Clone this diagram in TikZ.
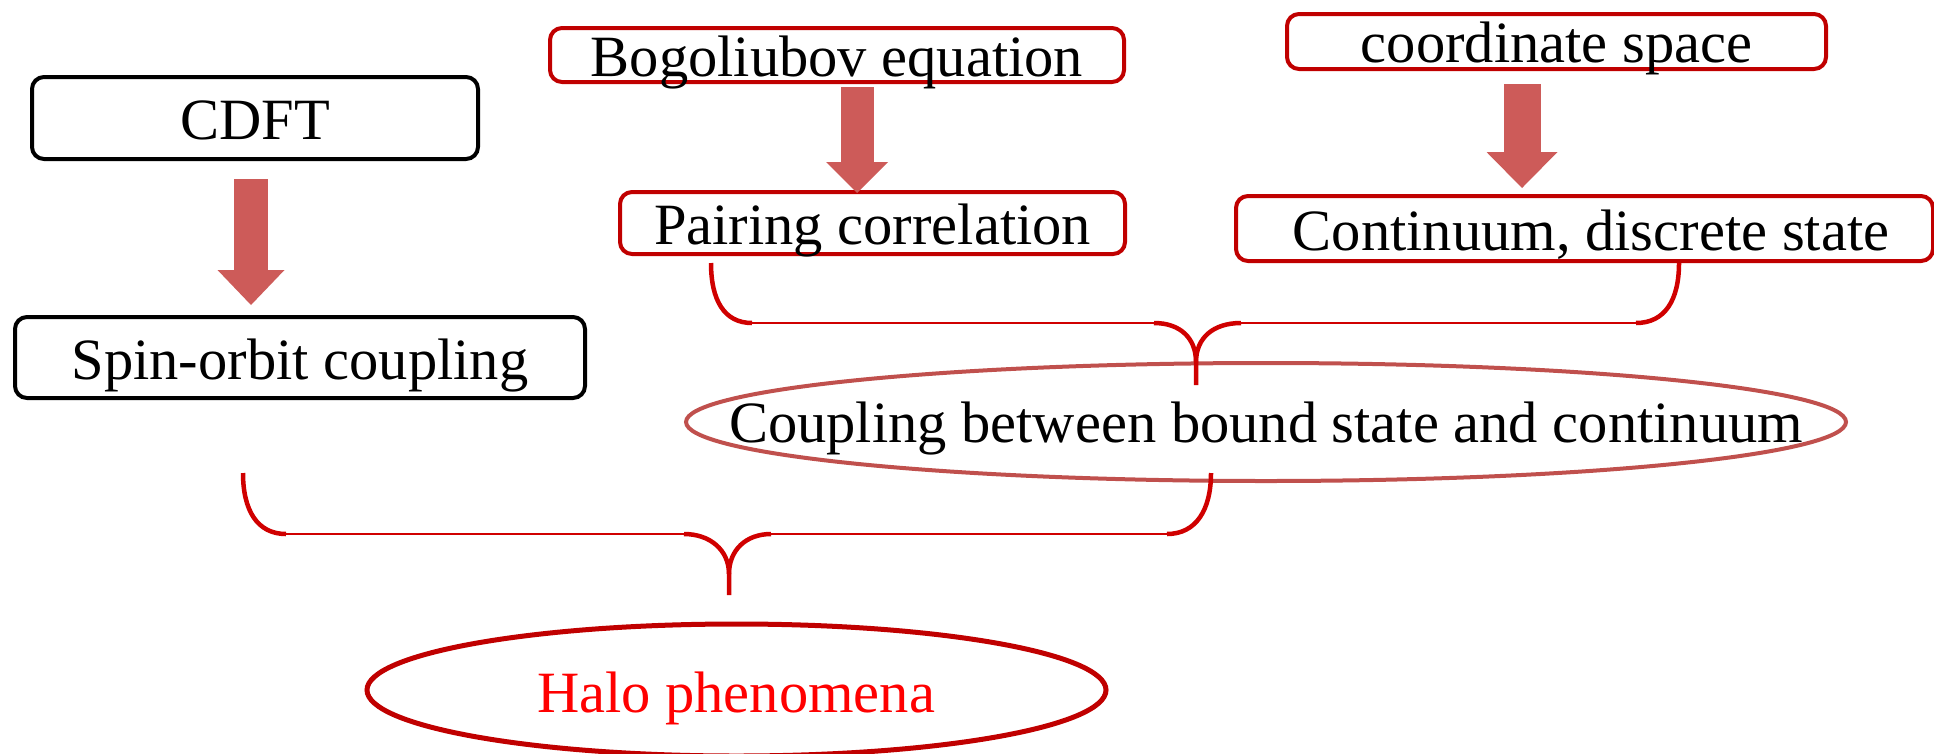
\documentclass[tikz,border=0pt]{standalone}
\usepackage{fontspec}
\setmainfont{Liberation Serif}
\usetikzlibrary{arrows.meta,calc}
\definecolor{boxred}{RGB}{192,0,0}
\definecolor{arrowred}{RGB}{205,91,89}
\definecolor{ellred}{RGB}{192,80,77}
\definecolor{bracered}{RGB}{208,0,0}
\definecolor{halored}{RGB}{255,0,0}
\begin{document}
\begin{tikzpicture}[x=1pt,y=-1pt,
  every node/.style={font=\fontsize{58.5}{70}\selectfont, inner sep=0pt},
  boxbase/.style={line width=4pt, rounded corners=12pt, anchor=north west},
  blackbox/.style={boxbase, draw=black},
  redbox/.style={boxbase, draw=boxred},
  bigarrow/.style args={#1/#2/#3}{draw=arrowred, line width=#1pt,
     -{Triangle[length=#3pt,width=#2pt,line width=0pt]}},
  bracepath/.style={draw=bracered, line width=2.5pt},
  bracecurve/.style={draw=bracered, line width=4.5pt},
  ellipseone/.style={draw=ellred, line width=4pt},
  haloellipse/.style={draw=boxred, line width=5pt}
]
\useasboundingbox (0,0) rectangle (1934,753);

% boxes
\node[blackbox, minimum width=446pt, text height=62pt, text depth=20pt] (cdft) at (30,75) {CDFT};
\node[blackbox, minimum width=570pt, text height=62pt, text depth=19pt] (spin) at (13,315) {Spin-orbit coupling};
\node[redbox, minimum width=574pt, text height=48pt, text depth=6pt] (bogo) at (548,26) {Bogoliubov equation};
\node[redbox, minimum width=505pt, text height=52pt, text depth=10pt] (pair) at (618,190) {Pairing correlation};
\node[redbox, minimum width=539pt, text height=48pt, text depth=7pt] (coord) at (1285,12) {coordinate space};
\node[redbox, minimum width=697pt, text height=54pt, text depth=11pt] (cont) at (1234,194) {\hspace*{13pt}Continuum, discrete state};

% ellipses
\coordinate (coupc) at (1266,422);
\draw[ellipseone] (coupc) ellipse [x radius=580, y radius=59];
\node[anchor=base] (coup) at (1266,442) {Coupling between bound state and continuum};

\coordinate (haloc) at (736.5,690);
\draw[haloellipse] (haloc) ellipse [x radius=369.5, y radius=66];
\node[anchor=base, text=halored] (halo) at (736,712) {Halo phenomena};

% block arrows
\draw[bigarrow=34/67/35] ([xshift=-4pt,yshift=-18pt]cdft.south) -- ([xshift=-49pt,yshift=10pt]spin.north);
\draw[bigarrow=33/62/31] ([xshift=20pt,yshift=-3pt]bogo.south) -- ([xshift=-15.5pt,yshift=-3pt]pair.north);
\draw[bigarrow=37/71/36] ([xshift=-34.5pt,yshift=-13pt]coord.south) -- ([xshift=-62.5pt,yshift=6pt]cont.north);

% top brace
\coordinate (b1l) at (711,263);
\coordinate (b1r) at (1679,263);
\coordinate (b1t) at (1196,385);
\draw[bracepath] (752,323) -- (1154,323);
\draw[bracepath] (1241,323) -- (1636,323);
\draw[bracecurve] (b1l) .. controls (711,300) and (724,323) .. (752,323);
\draw[bracecurve] (1154,323) .. controls (1180,323) and (1196,338) .. (1196,362) -- (b1t);
\draw[bracecurve] (1196,362) .. controls (1196,338) and (1213,323) .. (1241,323);
\draw[bracecurve] (1636,323) .. controls (1665,323) and (1679,300) .. (b1r);

% bottom brace
\coordinate (b2l) at (243,473);
\coordinate (b2r) at (1211,473);
\coordinate (b2t) at (729,595);
\draw[bracepath] (286,534) -- (684,534);
\draw[bracepath] (771,534) -- (1167,534);
\draw[bracecurve] (b2l) .. controls (243,510) and (257,534) .. (286,534);
\draw[bracecurve] (684,534) .. controls (710,534) and (729,550) .. (729,574) -- (b2t);
\draw[bracecurve] (729,574) .. controls (729,550) and (746,534) .. (771,534);
\draw[bracecurve] (1167,534) .. controls (1196,534) and (1211,510) .. (b2r);
\end{tikzpicture}
\end{document}
